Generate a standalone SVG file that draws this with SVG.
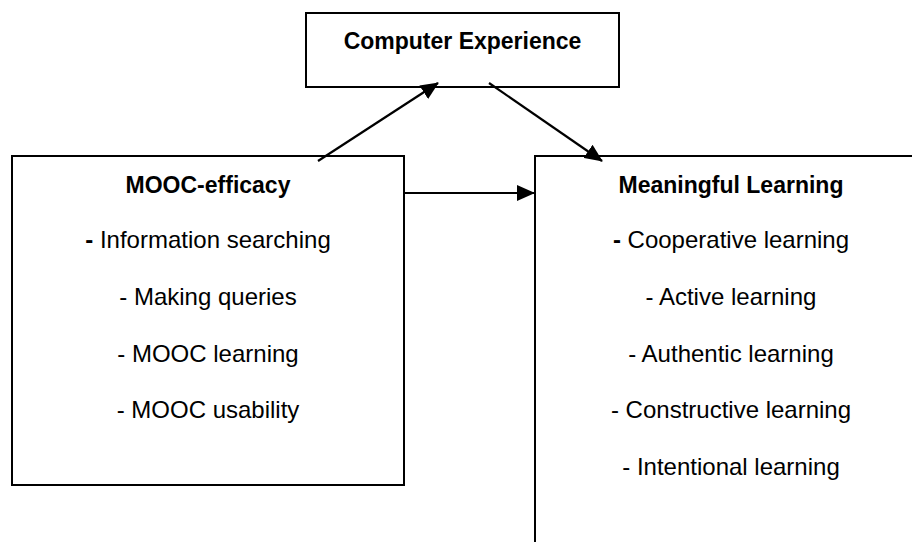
<svg xmlns="http://www.w3.org/2000/svg" width="912" height="542" viewBox="0 0 912 542">
<style>
.box{fill:#fff;stroke:#000;stroke-width:2}
.t{font-family:"Liberation Sans",Arial,sans-serif;font-size:24px;fill:#000;text-anchor:middle}
.h{font-weight:bold;font-size:23px}
.b{font-weight:bold}
.c{stroke:#000;stroke-width:2.2;fill:none;marker-end:url(#ah)}
</style>
<defs>
<marker id="ah" markerUnits="userSpaceOnUse" markerWidth="18" markerHeight="16" refX="17" refY="8" orient="auto" viewBox="0 0 18 16">
<path d="M0,0 L18,8 L0,16 Z" fill="#000"/>
</marker>
</defs>
<rect width="912" height="542" fill="#fff"/>
<g id="computer-experience">
<rect class="box" x="306" y="13" width="313" height="74"/>
<text class="t h" x="462.5" y="49">Computer Experience</text>
</g>
<g id="mooc-efficacy">
<rect class="box" x="12" y="156" width="392" height="329"/>
<text class="t h" x="208" y="193">MOOC-efficacy</text>
<text class="t" x="208" y="248"><tspan class="b">-</tspan> Information searching</text>
<text class="t" x="208" y="305">- Making queries</text>
<text class="t" x="208" y="362">- MOOC learning</text>
<text class="t" x="208" y="418">- MOOC usability</text>
</g>
<g id="meaningful-learning">
<rect class="box" x="535" y="156" width="392" height="400"/>
<text class="t h" x="731" y="193">Meaningful Learning</text>
<text class="t" x="731" y="248"><tspan class="b">-</tspan> Cooperative learning</text>
<text class="t" x="731" y="305">- Active learning</text>
<text class="t" x="731" y="362">- Authentic learning</text>
<text class="t" x="731" y="418">- Constructive learning</text>
<text class="t" x="731" y="475">- Intentional learning</text>
</g>
<g id="connectors">
<line class="c" x1="318" y1="161" x2="438" y2="83"/>
<line class="c" x1="489" y1="83" x2="602" y2="161"/>
<line class="c" x1="404" y1="193" x2="534" y2="193"/>
</g>
</svg>
